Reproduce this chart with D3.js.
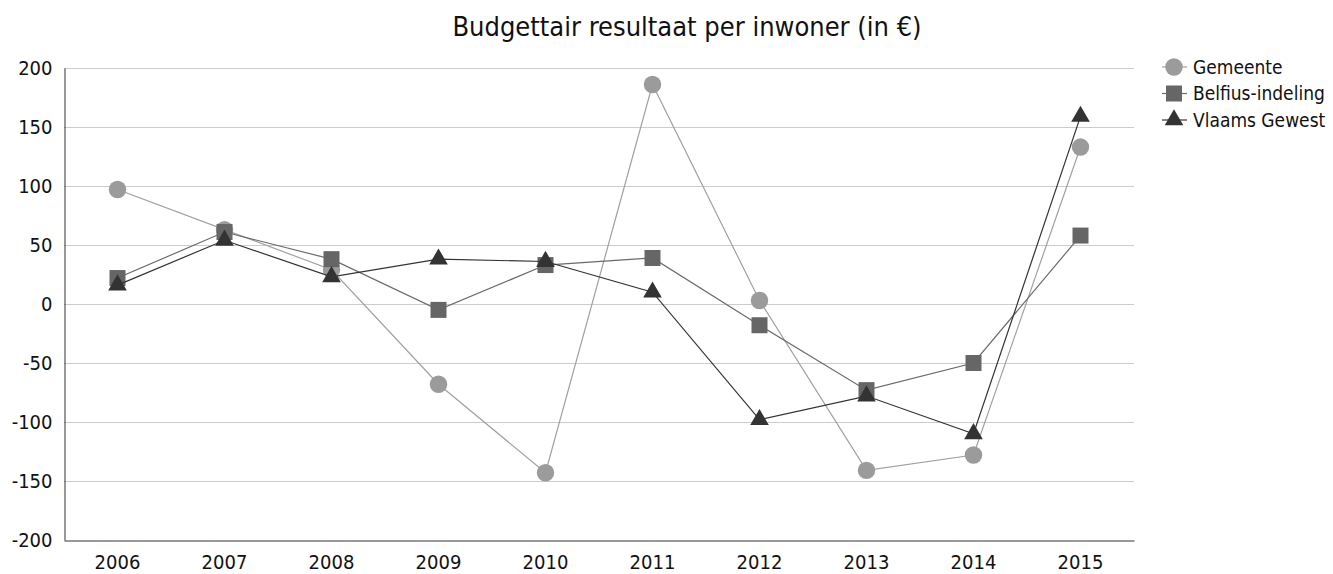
<!DOCTYPE html>
<html>
<head>
<meta charset="utf-8">
<script src="https://cdn.jsdelivr.net/npm/d3@7"></script>
<style>
    body { margin: 0; background: #fff; }
    text { font-family: "DejaVu Sans Condensed", "DejaVu Sans", sans-serif; fill: #111; }
</style>
</head>
<body>
<script>
// chart data
var years = ["2006","2007","2008","2009","2010","2011","2012","2013","2014","2015"];
var gemeente = [97, 63, 29, -68, -143, 186, 3, -141, -128, 133];
var belfius = [22, 61, 38, -5, 33, 39, -18, -73, -50, 58];
var vlaams = [16, 54, 23, 38, 36, 10, -98, -78, -110, 159];
var yTicks = [-200, -150, -100, -50, 0, 50, 100, 150, 200];
var seriesNames = ["Gemeente", "Belfius-indeling", "Vlaams Gewest"];

var series = [
    {name: seriesNames[0], values: gemeente, line: "#a0a0a0", fill: "#9b9b9b", shape: d3.symbolCircle, size: 240},
    {name: seriesNames[1], values: belfius, line: "#6a6a6a", fill: "#666666", shape: d3.symbolSquare, size: 256},
    {name: seriesNames[2], values: vlaams, line: "#333333", fill: "#333333", shape: d3.symbolTriangle, size: 150}
];

var plotLeft = 64, plotRight = 1134, plotTop = 68, plotBottom = 540;

var svgEl = d3.select("body").append("svg")
    .attr("width", 1333)
    .attr("height", 574);

var x = d3.scaleBand().domain(years).range([plotLeft, plotRight]);
var y = d3.scaleLinear().domain([-200, 200]).range([plotBottom, plotTop]);

// title
svgEl.append("text")
    .attr("x", 687)
    .attr("y", 36)
    .attr("text-anchor", "middle")
    .style("font-size", "27px")
    .text("Budgettair resultaat per inwoner (in €)");

// gridlines
svgEl.append("g")
    .selectAll("line")
    .data(yTicks.slice(1))
    .enter().append("line")
    .attr("x1", plotLeft).attr("x2", plotRight)
    .attr("y1", function(d){ return y(d) + 0.5; })
    .attr("y2", function(d){ return y(d) + 0.5; })
    .attr("stroke", "#cccccc")
    .attr("stroke-width", 1);

// y axis (plain hyphen for negatives, like the original)
var yAxis = svgEl.append("g")
    .attr("transform", "translate(" + (plotLeft + 0.5) + ",0)")
    .call(d3.axisLeft(y).tickValues(yTicks).tickSize(0).tickPadding(12)
        .tickFormat(function(d){ return String(d); }));
yAxis.select(".domain").attr("stroke", "#333");
yAxis.selectAll("text").style("font-size", "20px").attr("fill", "#111");

// x axis
var xAxis = svgEl.append("g")
    .attr("transform", "translate(0," + (plotBottom + 0.5) + ")")
    .call(d3.axisBottom(x).tickSize(0).tickPadding(14));
xAxis.select(".domain").attr("stroke", "#333");
xAxis.selectAll("text").style("font-size", "20px").attr("fill", "#111");

function cx(i){ return x(years[i]) + x.bandwidth() / 2; }

var line = d3.line()
    .x(function(d, i){ return cx(i); })
    .y(function(d){ return y(d); });

series.forEach(function(s){
    var g = svgEl.append("g");
    g.append("path")
        .attr("d", line(s.values))
        .attr("fill", "none")
        .attr("stroke", s.line)
        .attr("stroke-width", 1.2);
    g.selectAll("path.mark")
        .data(s.values)
        .enter().append("path")
        .attr("class", "mark")
        .attr("d", d3.symbol().type(s.shape).size(s.size))
        .attr("transform", function(d, i){ return "translate(" + cx(i) + "," + y(d) + ")"; })
        .attr("fill", s.fill);
});

// legend
var legend = svgEl.append("g")
    .selectAll("g")
    .data(series)
    .enter().append("g")
    .attr("transform", function(d, i){ return "translate(1174," + (67 + i * 26.5) + ")"; });
legend.append("line")
    .attr("x1", -12).attr("x2", 13)
    .attr("stroke", function(d){ return d.line; })
    .attr("stroke-width", 1.2);
legend.append("path")
    .attr("d", function(d){ return d3.symbol().type(d.shape).size(d.size)(); })
    .attr("fill", function(d){ return d.fill; });
legend.append("text")
    .attr("x", 19)
    .attr("dy", "0.35em")
    .style("font-size", "19px")
    .text(function(d){ return d.name; });
</script>
</body>
</html>
